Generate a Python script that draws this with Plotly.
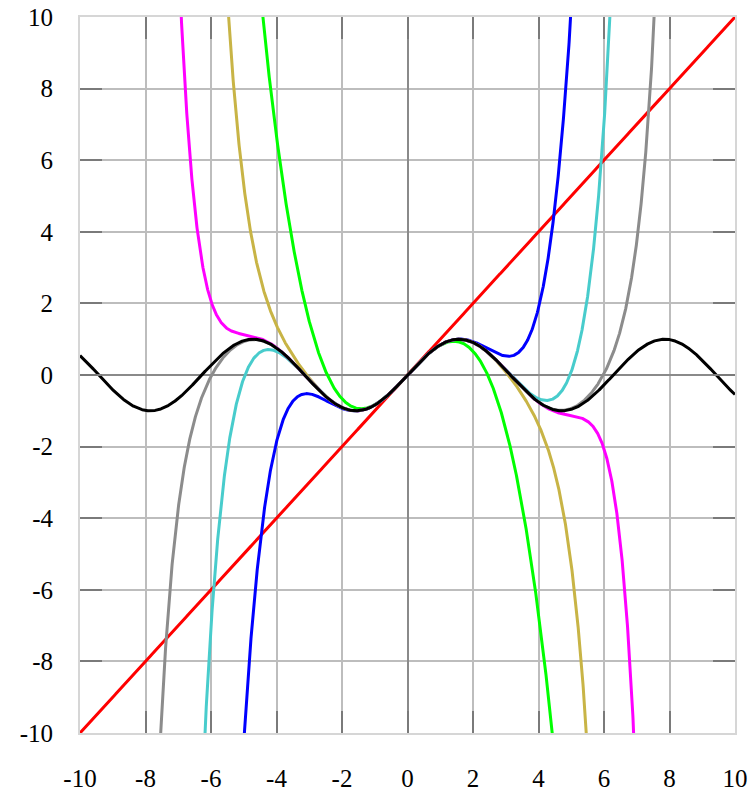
import numpy as np
import plotly.graph_objects as go

# Taylor polynomials of sin(x) of increasing degree, plus sin(x) itself
degrees = [1, 3, 5, 7, 9, 11, 13]
colors = ["#ff0000", "#00ff00", "#0000ff", "#c8b446", "#48cccc", "#ff00ff", "#8c8c8c"]
sine_color = "#000000"

tick_vals = [-10, -8, -6, -4, -2, 0, 2, 4, 6, 8, 10]
tick_text = ["-10", "-8", "-6", "-4", "-2", "0", "2", "4", "6", "8", "10"]

x = np.linspace(-10, 10, 4001)


def taylor_sin(xv, deg):
    total = np.zeros_like(xv)
    term = xv.copy()
    k = 1
    while k <= deg:
        total = total + term
        term = -term * xv * xv / ((k + 1) * (k + 2))
        k += 2
    return total


fig = go.Figure()
for deg, col in zip(degrees, colors):
    y = taylor_sin(x, deg)
    y = np.clip(y, -60, 60)
    fig.add_trace(go.Scatter(x=x, y=y, mode="lines",
                             line=dict(color=col, width=3), hoverinfo="skip"))
fig.add_trace(go.Scatter(x=x, y=np.sin(x), mode="lines",
                         line=dict(color=sine_color, width=3), hoverinfo="skip"))

axis_common = dict(
    tickvals=tick_vals, ticktext=tick_text,
    showgrid=True, gridcolor="#bdbdbd", gridwidth=1.5,
    zeroline=True, zerolinecolor="#8a8a8a", zerolinewidth=2,
    showline=True, linecolor="#d6d6d6", linewidth=2, mirror="allticks",
    ticks="inside", ticklen=22, tickwidth=2, tickcolor="#7a7a7a",
    tickfont=dict(family="Liberation Serif", size=25, color="#000000"),
    fixedrange=True, automargin=False,
)

fig.update_xaxes(range=[-10, 10], ticklabelstandoff=22, **axis_common)
fig.update_yaxes(range=[-10, 10], ticklabelstandoff=20, **axis_common)

fig.update_layout(
    width=756, height=793,
    margin=dict(l=80, r=21, t=17, b=60),
    paper_bgcolor="white", plot_bgcolor="white",
    showlegend=False,
)

fig.write_html("out.html", post_script="document.body.style.margin='0px';",
               config={"displayModeBar": False})
